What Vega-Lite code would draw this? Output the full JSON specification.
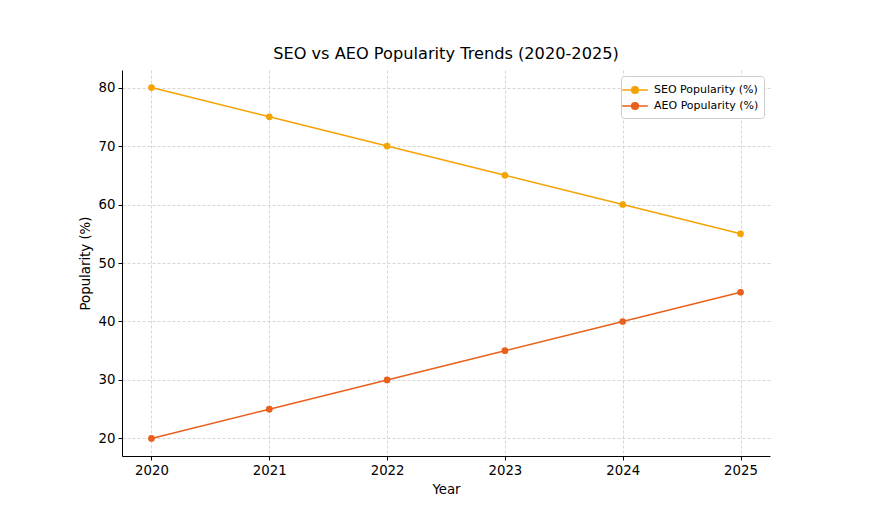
{
  "$schema": "https://vega.github.io/schema/vega-lite/v6.json",
  "autosize": {"type": "none"},
  "padding": {"left": 122, "top": 70, "right": 100, "bottom": 64},
  "width": 648,
  "height": 386,
  "background": "white",
  "title": {"text": "SEO vs AEO Popularity Trends (2020-2025)", "font": "DejaVu Sans", "fontSize": 16.2, "fontWeight": "normal", "color": "#000000", "anchor": "middle", "offset": 8},
  "data": {"values": [
    {"year": 2020, "series": "SEO Popularity (%)", "value": 80},
    {"year": 2021, "series": "SEO Popularity (%)", "value": 75},
    {"year": 2022, "series": "SEO Popularity (%)", "value": 70},
    {"year": 2023, "series": "SEO Popularity (%)", "value": 65},
    {"year": 2024, "series": "SEO Popularity (%)", "value": 60},
    {"year": 2025, "series": "SEO Popularity (%)", "value": 55},
    {"year": 2020, "series": "AEO Popularity (%)", "value": 20},
    {"year": 2021, "series": "AEO Popularity (%)", "value": 25},
    {"year": 2022, "series": "AEO Popularity (%)", "value": 30},
    {"year": 2023, "series": "AEO Popularity (%)", "value": 35},
    {"year": 2024, "series": "AEO Popularity (%)", "value": 40},
    {"year": 2025, "series": "AEO Popularity (%)", "value": 45}
  ]},
  "encoding": {
    "x": {"field": "year", "type": "quantitative", "title": "Year",
      "scale": {"domain": [2019.75, 2025.25], "nice": false, "zero": false},
      "axis": {"values": [2020, 2021, 2022, 2023, 2024, 2025], "format": "d"}},
    "y": {"field": "value", "type": "quantitative", "title": "Popularity (%)",
      "scale": {"domain": [17, 83], "nice": false, "zero": false},
      "axis": {"values": [20, 30, 40, 50, 60, 70, 80]}},
    "color": {"field": "series", "type": "nominal",
      "scale": {"domain": ["SEO Popularity (%)", "AEO Popularity (%)"], "range": ["#f5a300", "#e8601c"]},
      "legend": {"title": null, "orient": "top-right", "offset": 6,
        "symbolType": "M-1.6,0H1.6M-0.42,0A0.42,0.42 0 1,1 0.42,0A0.42,0.42 0 1,1 -0.42,0Z",
        "symbolSize": 256, "symbolStrokeWidth": 1.5, "labelFont": "DejaVu Sans", "labelFontSize": 11, "labelColor": "#000000",
        "rowPadding": 0, "padding": 5, "strokeColor": "#cccccc", "fillColor": "white", "cornerRadius": 3, "labelOffset": 10,
        "encode": {"symbols": {"update": {"fill": {"scale": "color", "field": "value"}, "fillOpacity": {"value": 1}}}}}}
  },
  "layer": [
    {"mark": {"type": "line", "strokeWidth": 1.5}},
    {"mark": {"type": "point", "filled": true, "size": 45, "opacity": 1}}
  ],
  "config": {
    "view": {"stroke": null},
    "font": "DejaVu Sans",
    "axis": {
      "labelFont": "DejaVu Sans", "labelFontSize": 13.3, "labelColor": "#000000",
      "titleFont": "DejaVu Sans", "titleFontSize": 13.3, "titleFontWeight": "normal", "titleColor": "#000000",
      "domainColor": "#000000", "domainWidth": 1, "tickColor": "#000000", "tickSize": 4, "tickWidth": 1,
      "grid": true, "gridColor": "#cccccc", "gridDash": [3, 2], "gridWidth": 0.8,
      "labelPadding": 3, "titlePadding": 6
    }
  }
}
